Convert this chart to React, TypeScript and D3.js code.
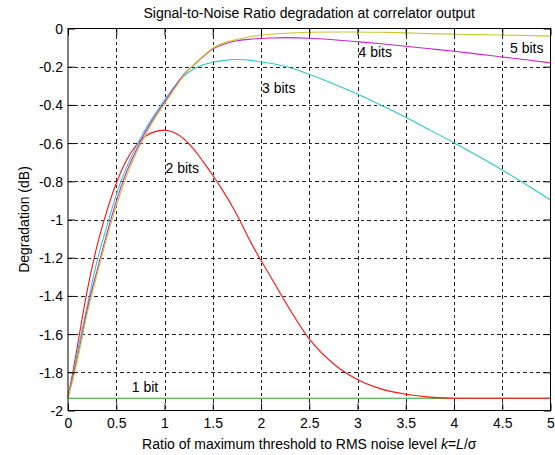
import React, { useEffect, useRef } from "react";
import * as d3 from "d3";

const TITLE = "Signal-to-Noise Ratio degradation at correlator output";
const Y_LABEL = "Degradation (dB)";

const kValues = [0, 0.05, 0.1, 0.2, 0.3, 0.4, 0.5, 0.6, 0.7, 0.8, 0.9, 1.0, 1.1, 1.2, 1.3, 1.4, 1.5, 1.6, 1.75, 1.9, 2.0, 2.1, 2.25, 2.5, 2.75, 3.0, 3.25, 3.5, 3.75, 4.0, 4.25, 4.5, 4.75, 5.0];

const bit1 = kValues.map(() => -1.936);
const bit2 = [-1.93, -1.80, -1.655, -1.37, -1.14, -0.96, -0.81, -0.695, -0.615, -0.565, -0.54, -0.532, -0.545, -0.578, -0.63, -0.697, -0.768, -0.845, -0.975, -1.125, -1.215, -1.30, -1.43, -1.625, -1.755, -1.838, -1.888, -1.915, -1.930, -1.936, -1.936, -1.936, -1.936, -1.936];
const bit3 = [-1.93, -1.82, -1.69, -1.45, -1.22, -1.04, -0.87, -0.735, -0.625, -0.53, -0.45, -0.375, -0.305, -0.25, -0.212, -0.19, -0.177, -0.168, -0.162, -0.167, -0.175, -0.182, -0.198, -0.24, -0.29, -0.343, -0.403, -0.465, -0.532, -0.598, -0.668, -0.741, -0.818, -0.898];
const bit4 = [-1.93, -1.83, -1.72, -1.47, -1.27, -1.08, -0.905, -0.76, -0.645, -0.545, -0.46, -0.385, -0.31, -0.24, -0.193, -0.148, -0.108, -0.085, -0.064, -0.055, -0.052, -0.05, -0.048, -0.051, -0.059, -0.069, -0.080, -0.093, -0.106, -0.119, -0.134, -0.149, -0.164, -0.180];
const bit5 = [-1.93, -1.84, -1.73, -1.49, -1.29, -1.10, -0.93, -0.78, -0.66, -0.56, -0.47, -0.395, -0.32, -0.245, -0.19, -0.145, -0.102, -0.078, -0.058, -0.042, -0.035, -0.030, -0.025, -0.020, -0.018, -0.018, -0.020, -0.023, -0.027, -0.030, -0.032, -0.034, -0.037, -0.040];

const seriesNames = ["1 bit", "2 bits", "3 bits", "4 bits", "5 bits"];
const seriesValues = [bit1, bit2, bit3, bit4, bit5];
const seriesColors = ["#2ea02e", "#ff1010", "#30c8c8", "#cc22cc", "#c8c830"];

const labelK = [0.65, 1.0, 2.0, 3.0, 4.57];
const labelY = [-1.878, -0.731, -0.311, -0.123, -0.103];

const xTicks = [0, 0.5, 1, 1.5, 2, 2.5, 3, 3.5, 4, 4.5, 5];
const yTicks = [0, -0.2, -0.4, -0.6, -0.8, -1, -1.2, -1.4, -1.6, -1.8, -2];

const W = 555;
const H = 455;
const left = 68;
const right = 550.5;
const top = 28.5;
const bottom = 410.5;
const FONT = "'Liberation Sans', Arial, Helvetica, sans-serif";

export default function App() {
  const ref = useRef<SVGSVGElement | null>(null);

  useEffect(() => {
    const svg = d3.select(ref.current);
    svg.selectAll("*").remove();

    const x = d3.scaleLinear().domain([0, 5]).range([left, right]);
    const y = d3.scaleLinear().domain([-2, 0]).range([bottom, top]);

    svg.append("rect").attr("x", 0).attr("y", 0).attr("width", W).attr("height", H).attr("fill", "#ffffff");

    // grid
    const grid = svg.append("g").attr("stroke", "#222").attr("stroke-width", 1).attr("stroke-dasharray", "3.5,3").attr("shape-rendering", "crispEdges");
    xTicks.slice(1, -1).forEach((t) => {
      grid.append("line").attr("x1", Math.round(x(t)) + 0.5).attr("x2", Math.round(x(t)) + 0.5).attr("y1", top).attr("y2", bottom);
    });
    yTicks.slice(1, -1).forEach((t) => {
      grid.append("line").attr("y1", Math.round(y(t)) + 0.5).attr("y2", Math.round(y(t)) + 0.5).attr("x1", left).attr("x2", right);
    });

    // curves
    const line = d3
      .line<number>()
      .x((_, i) => x(kValues[i]))
      .y((d) => y(d))
      .curve(d3.curveMonotoneX);
    seriesValues.forEach((vals, si) => {
      svg
        .append("path")
        .attr("d", line(vals) as string)
        .attr("fill", "none")
        .attr("stroke", seriesColors[si])
        .attr("stroke-width", 1.1);
    });

    // box
    svg.append("rect").attr("x", left).attr("y", top).attr("width", right - left).attr("height", bottom - top).attr("fill", "none").attr("stroke", "#000").attr("stroke-width", 1);

    // axes with inward ticks
    const tl = 7;
    const xAxisB = d3.axisBottom(x).tickValues(xTicks).tickSize(-tl).tickPadding(tl + 6).tickFormat((d) => d3.format("")(d as number));
    const gB = svg.append("g").attr("transform", `translate(0,${bottom})`).call(xAxisB);
    const xAxisT = d3.axisTop(x).tickValues(xTicks).tickSize(-tl).tickFormat(() => "");
    const gT = svg.append("g").attr("transform", `translate(0,${top})`).call(xAxisT);
    const yAxisL = d3.axisLeft(y).tickValues(yTicks).tickSize(-tl).tickPadding(5).tickFormat((d) => String(d as number));
    const gL = svg.append("g").attr("transform", `translate(${left},0)`).call(yAxisL);
    const yAxisR = d3.axisRight(y).tickValues(yTicks).tickSize(-tl).tickFormat(() => "");
    const gR = svg.append("g").attr("transform", `translate(${right},0)`).call(yAxisR);
    [gB, gT, gL, gR].forEach((g) => {
      g.select(".domain").remove();
      g.selectAll(".tick line").attr("stroke", "#000");
      g.selectAll("text").attr("font-family", FONT).attr("font-size", 14).attr("fill", "#000");
    });
    gB.selectAll("text").attr("dy", "0.71em").attr("y", 8);
    gL.selectAll("text").attr("x", -5).attr("dy", "0.36em");

    // labels on curves
    seriesNames.forEach((name, si) => {
      svg
        .append("text")
        .attr("x", x(labelK[si]) + 1)
        .attr("y", y(labelY[si]))
        .attr("dy", "0.36em")
        .attr("font-family", FONT)
        .attr("font-size", 14)
        .attr("fill", "#000")
        .text(name);
    });

    // title
    svg
      .append("text")
      .attr("x", (left + right) / 2)
      .attr("y", 18)
      .attr("text-anchor", "middle")
      .attr("font-family", FONT)
      .attr("font-size", 14)
      .attr("fill", "#000")
      .text(TITLE);

    // x label
    const xl = svg
      .append("text")
      .attr("x", (left + right) / 2)
      .attr("y", 449)
      .attr("text-anchor", "middle")
      .attr("font-family", FONT)
      .attr("font-size", 14)
      .attr("fill", "#000");
    xl.append("tspan").text("Ratio of maximum threshold to RMS noise level ");
    xl.append("tspan").attr("font-style", "italic").text("k");
    xl.append("tspan").text("=");
    xl.append("tspan").attr("font-style", "italic").text("L");
    xl.append("tspan").text("/σ");

    // y label
    svg
      .append("text")
      .attr("transform", `translate(29,${(top + bottom) / 2}) rotate(-90)`)
      .attr("text-anchor", "middle")
      .attr("font-family", FONT)
      .attr("font-size", 14)
      .attr("fill", "#000")
      .text(Y_LABEL);
  }, []);

  return (
    <svg
      ref={ref}
      width={W}
      height={H}
      style={{ position: "absolute", left: 0, top: 0, display: "block", background: "#fff" }}
    />
  );
}
